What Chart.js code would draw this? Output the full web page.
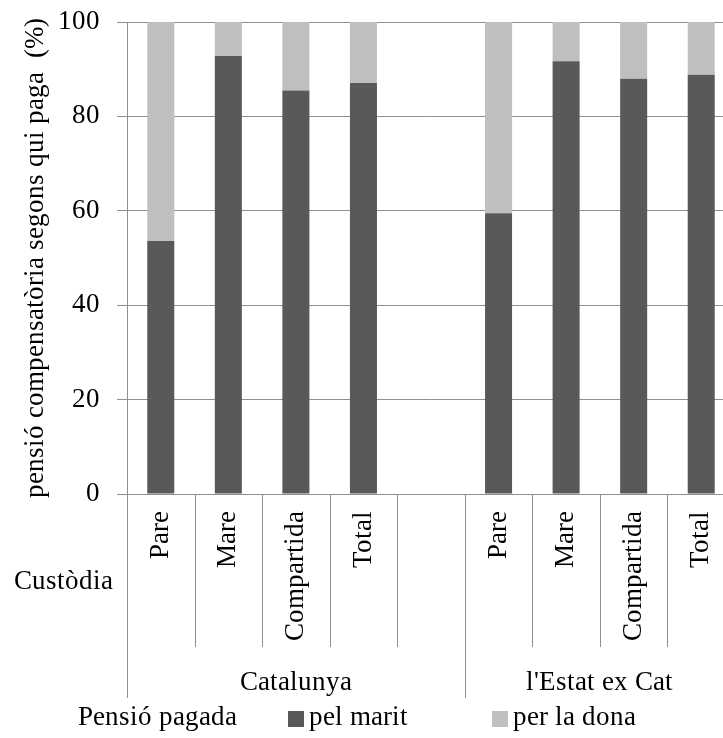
<!DOCTYPE html>
<html>
<head>
<meta charset="utf-8">
<script src="https://cdn.jsdelivr.net/npm/chart.js@4.4.1/dist/chart.umd.min.js"></script>
<style>
  @font-face {
    font-family: "ChartSerif";
    src: local("Liberation Serif"), local("LiberationSerif"), local("Tinos"), local("Times New Roman");
  }
  html, body { margin: 0; padding: 0; overflow: hidden; background: #fff; }
  #fontWarm { position: absolute; left: -2000px; top: 0; font: 27px "ChartSerif"; }
</style>
</head>
<body>
<div id="fontWarm">pensió compensatòria Custòdia 0123456789</div>
<canvas id="myChart" width="743" height="738" style="display:block"></canvas>
<script>
// données
const categories = ["Pare", "Mare", "Compartida", "Total", "", "Pare", "Mare", "Compartida", "Total"];
const groupNames = ["Catalunya", "l'Estat ex Cat"];
const groupStarts = [0, 5];
const pelMarit = [53.6, 92.8, 85.5, 87.1, null, 59.5, 91.7, 88.0, 88.8];
const perLaDona = [46.4, 7.2, 14.5, 12.9, null, 40.5, 8.3, 12.0, 11.2];
const yTicks = [0, 20, 40, 60, 80, 100];

const gridColor = "#8f8f8f";
const serifFamily = "ChartSerif, 'Liberation Serif', 'Times New Roman', serif";
const canvas = document.getElementById("myChart");

// étiquettes du bas, séparateurs et légende
const bottomLabels = {
  id: "bottomLabels",
  afterDraw(chart) {
    const ctx = chart.ctx;
    const area = chart.chartArea;
    const n = categories.length;
    const step = (area.right - area.left) / n;
    ctx.save();
    ctx.strokeStyle = gridColor;
    ctx.lineWidth = 1;
    for (let i = 0; i <= n; i++) {
      const px = Math.round(area.left + i * step) + 0.5;
      const big = groupStarts.includes(i) || i === n;
      ctx.beginPath();
      ctx.moveTo(px, area.bottom);
      ctx.lineTo(px, big ? 698 : 647);
      ctx.stroke();
    }
    ctx.fillStyle = "#000";
    ctx.font = "27px " + serifFamily;
    ctx.textBaseline = "middle";
    ctx.textAlign = "center";
    groupStarts.forEach((s, g) => {
      const e = g + 1 < groupStarts.length ? groupStarts[g + 1] : n;
      const cx = area.left + ((s + e) / 2) * step;
      ctx.fillText(groupNames[g], cx, 683);
    });
    ctx.textAlign = "left";
    ctx.fillText("Custòdia", 14, 582);
    ctx.fillText("Pensió pagada", 78, 718);
    // légende
    const items = [
      { x: 288, ds: chart.data.datasets[0] },
      { x: 492, ds: chart.data.datasets[1] },
    ];
    items.forEach((it) => {
      ctx.fillStyle = it.ds.backgroundColor;
      ctx.fillRect(it.x, 711, 16, 16);
      ctx.fillStyle = "#000";
      ctx.fillText(it.ds.label, it.x + 21, 718);
    });
    ctx.restore();
  },
};

function drawChart() {
  Chart.defaults.font.family = serifFamily;
  Chart.defaults.font.size = 27;
  Chart.defaults.color = "#000";
  new Chart(canvas, {
    type: "bar",
    data: {
      labels: categories,
      datasets: [
        { label: "pel marit", data: pelMarit, backgroundColor: "#595959" },
        { label: "per la dona", data: perLaDona, backgroundColor: "#bfbfbf" },
      ],
    },
    options: {
      responsive: false,
      devicePixelRatio: 1,
      animation: false,
      layout: { padding: { top: 22, right: 8, left: 0, bottom: 0 } },
      plugins: { legend: { display: false }, tooltip: { enabled: false } },
      datasets: { bar: { barPercentage: 0.4, categoryPercentage: 1 } },
      scales: {
        x: {
          stacked: true,
          grid: { display: false, drawTicks: false },
          border: { display: false },
          ticks: {
            font: { family: serifFamily, size: 27 },
            minRotation: 90,
            maxRotation: 90,
            autoSkip: false,
            padding: 17,
          },
          afterFit(scale) {
            scale.height = 244;
            scale.paddingLeft = 0;
            scale.paddingRight = 0;
          },
        },
        y: {
          stacked: true,
          min: 0,
          max: 100,
          afterBuildTicks(scale) {
            scale.ticks = yTicks.map((v) => ({ value: v }));
          },
          grid: { color: gridColor, tickLength: 10 },
          border: { color: gridColor },
          ticks: { font: { family: serifFamily, size: 27 }, padding: 17 },
          title: {
            display: true,
            text: "pensió compensatòria segons qui paga  (%)",
            font: { family: serifFamily, size: 27 },
            padding: { top: 20, bottom: 0 },
          },
          afterFit(scale) {
            scale.width = 127;
            scale.paddingTop = 0;
            scale.paddingBottom = 0;
          },
        },
      },
    },
    plugins: [bottomLabels],
  });
}

// attendre la police locale avant de dessiner
document.fonts.load('27px "ChartSerif"').then(drawChart, drawChart);
</script>
</body>
</html>
